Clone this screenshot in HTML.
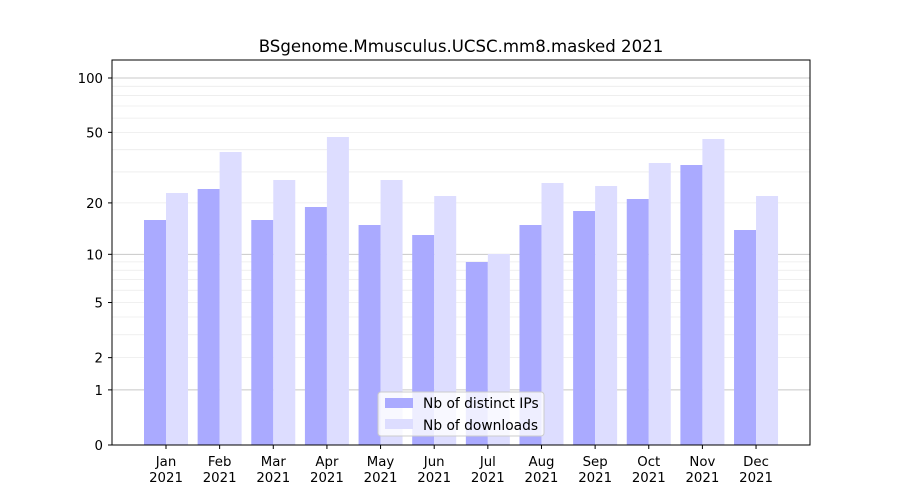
<!DOCTYPE html>
<html><head><style>body{margin:0;background:#fff}svg{display:block;font-family:"DejaVu Sans","Liberation Sans",sans-serif}</style></head>
<body>
<svg id="s" width="900" height="500" xmlns="http://www.w3.org/2000/svg">
<rect width="900" height="500" fill="#fff"/>
<g id="grid"></g>
<g id="bars"></g>
<rect x="112" y="60" width="698" height="385" fill="none" stroke="#000" stroke-width="1"/>
<g id="ticks" font-size="13.3" fill="#000"></g>
<text x="461" y="52" text-anchor="middle" font-size="16.6">BSgenome.Mmusculus.UCSC.mm8.masked 2021</text>
<g>
<rect x="378" y="392" width="166" height="44" fill="#fff" fill-opacity="0.8" stroke="#ccc" rx="3"/>
<rect x="385" y="398" width="28" height="10" fill="#aaaaff"/>
<text x="423" y="408" font-size="13.8">Nb of distinct IPs</text>
<rect x="385" y="419" width="28" height="10" fill="#ddddff"/>
<text x="423" y="430" font-size="13.8">Nb of downloads</text>
</g>
</svg>
<script>
var NS="http://www.w3.org/2000/svg";
function Y(v){return 445-183.1*Math.log10(1+v);}
function el(p,t,a,txt){var e=document.createElementNS(NS,t);for(var k in a)e.setAttribute(k,a[k]);if(txt!==undefined)e.textContent=txt;document.getElementById(p).appendChild(e);return e;}
var minors=[2,3,4,5,6,7,8,9,20,30,40,50,60,70,80,90];
minors.forEach(function(v){var y=Y(v);el("grid","line",{x1:112,x2:810,y1:y,y2:y,stroke:"#ebebeb","stroke-width":0.8});});
[1,10,100].forEach(function(v){var y=Y(v);el("grid","line",{x1:112,x2:810,y1:y,y2:y,stroke:"#c8c8c8","stroke-width":1});});
var ip=[220,189,220,207,225,235,262,225,211,199,165,230];
var dl=[193,152,180,137,180,196,254,183,186,163,139,196];
var m=["Jan","Feb","Mar","Apr","May","Jun","Jul","Aug","Sep","Oct","Nov","Dec"];
for(var i=0;i<12;i++){var c=166+i*53.64;
el("bars","rect",{x:c-22,y:ip[i],width:22,height:445-ip[i],fill:"#aaaaff"});
el("bars","rect",{x:c,y:dl[i],width:22,height:445-dl[i],fill:"#ddddff"});
el("ticks","line",{x1:c,x2:c,y1:445,y2:449,stroke:"#000"});
el("ticks","text",{x:c,y:466,"text-anchor":"middle"},m[i]);
el("ticks","text",{x:c,y:482,"text-anchor":"middle"},"2021");}
[0,1,2,5,10,20,50,100].forEach(function(v){var y=Y(v);
el("ticks","line",{x1:108,x2:112,y1:y,y2:y,stroke:"#000"});
el("ticks","text",{x:103,y:y+5,"text-anchor":"end"},String(v));});
</script>
</body></html>
